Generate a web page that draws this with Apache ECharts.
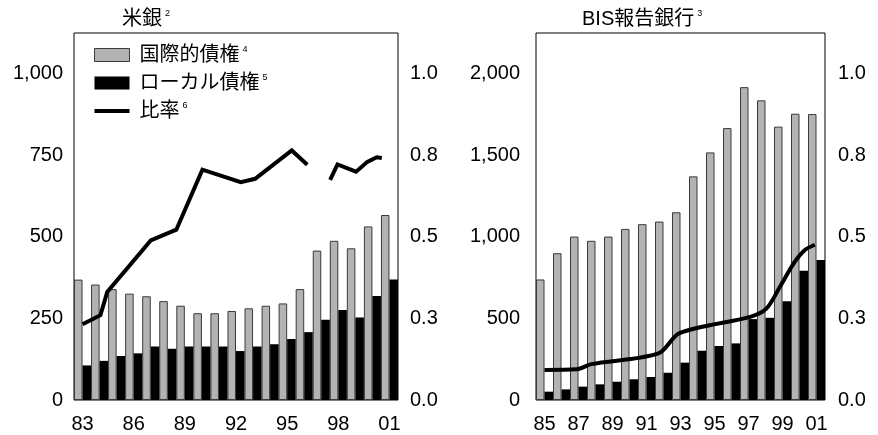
<!DOCTYPE html>
<html><head><meta charset="utf-8">
<script src="https://cdn.jsdelivr.net/npm/echarts@6/dist/echarts.min.js"></script>
<style>html,body{margin:0;padding:0;background:#fff}#c{width:878px;height:435px}</style>
</head><body><div id="c"></div>
<script>
const leftYears = ['83','84','85','86','87','88','89','90','91','92','93','94','95','96','97','98','99','00','01'];
const leftIntl = [369,354,340,326,318,303,289,266,266,273,281,289,296,340,458,488,465,532,567];
const leftLocal = [106,120,135,143,164,157,164,164,164,150,164,171,187,208,246,276,253,319,369];
const leftRatioX = [1983.0,1984.05,1984.45,1987.0,1988.5,1990.03,1992.28,1993.12,1995.27,1996.18,1996.8,1997.52,1997.95,1999.04,1999.7,2000.25,2000.55];
const leftRatioY = [0.232,0.26,0.331,0.489,0.522,0.706,0.668,0.678,0.765,0.721,null,0.675,0.722,0.70,0.73,0.744,0.742];

const rightYears = ['85','86','87','88','89','90','91','92','93','94','95','96','97','98','99','00','01'];
const rightIntl = [739,900,1002,976,1002,1049,1078,1094,1151,1371,1518,1667,1918,1837,1676,1755,1753];
const rightLocal = [51,65,82,96,112,127,141,167,229,302,331,347,496,504,606,792,859];
const rightRatioX = [1985.0,1986.9,1987.75,1991.7,1992.95,1997.1,1998.05,1998.85,1999.65,2000.3,2000.9];
const rightRatioY = [0.092,0.094,0.11,0.143,0.205,0.255,0.28,0.347,0.418,0.459,0.476];

const leftTicks = [0,250,500,750,1000];
const rightTicks = [0,500,1000,1500,2000];
const ratioTicks = [0,0.25,0.5,0.75,1.0];

const FONT = "'Liberation Sans', Arial, 'Noto Sans CJK JP', sans-serif";
const GRAY = '#b3b3b3';
const NAMES = ['国際的債権','ローカル債権','比率'];
const SUPS = {'国際的債権':'4','ローカル債権':'5','比率':'6'};

function comma(v){return String(v).replace(/\B(?=(\d{3})+(?!\d))/g, ',');}
const pair = (xs, ys) => xs.map((x,i)=>[x, ys[i]===null ? '-' : ys[i]]);

const chart = echarts.init(document.getElementById('c'), null, {renderer:'canvas'});
const axisLblBase = {color:'#000', fontSize:20, fontFamily:FONT};
const richT = {a:{fontSize:20,fontFamily:FONT,color:'#000',fontWeight:'normal'}, s:{fontSize:9,fontFamily:FONT,color:'#000',fontWeight:'normal',verticalAlign:'top',padding:[0,0,8,3]}};
function valAxis(grid, max, ticks, fmt, pos, margin){
  return {type:'value', gridIndex:grid, position:pos, min:0, max:max, interval:ticks[1]-ticks[0],
    axisLine:{show:false}, axisTick:{show:false}, splitLine:{show:false},
    axisLabel:Object.assign({margin:margin, showMaxLabel:false, formatter:fmt}, axisLblBase)};
}
const option = {
  animation:false,
  title:[
    {text:'{a|米銀}{s|2}', left:117, top:4, textStyle:{fontWeight:'normal', rich:richT}},
    {text:'{a|BIS報告銀行}{s|3}', left:577, top:4, textStyle:{fontWeight:'normal', rich:richT}}
  ],
  legend:{
    data:[
      {name:NAMES[0], icon:'rect', itemStyle:{color:GRAY, borderColor:'#3a3a3a', borderWidth:1}},
      {name:NAMES[1], icon:'rect', itemStyle:{color:'#000'}},
      {name:NAMES[2], icon:'path://M0,0H35V4H0Z', itemStyle:{color:'#000'}}
    ],
    orient:'vertical', left:89, top:40, itemWidth:35, itemHeight:13, itemGap:8,
    symbolKeepAspect:true,
    formatter:n=>'{a|'+n+'}{s|'+SUPS[n]+'}',
    textStyle:{padding:[0,0,0,5], rich:richT},
    selectedMode:false
  },
  grid:[
    {left:74, right:480, top:33, bottom:35, show:true, borderColor:'#000', borderWidth:1, containLabel:false},
    {left:536, right:53, top:33, bottom:35, show:true, borderColor:'#000', borderWidth:1, containLabel:false}
  ],
  xAxis:[
    {type:'category', gridIndex:0, data:leftYears, axisLine:{show:false}, axisTick:{show:false},
     axisLabel:Object.assign({interval:2, margin:14}, axisLblBase)},
    {type:'category', gridIndex:1, data:rightYears, axisLine:{show:false}, axisTick:{show:false},
     axisLabel:Object.assign({interval:1, margin:14}, axisLblBase)},
    {type:'value', gridIndex:0, min:1982.5, max:2001.5, show:false},
    {type:'value', gridIndex:1, min:1984.5, max:2001.5, show:false}
  ],
  yAxis:[
    valAxis(0, 1125, leftTicks, v=>comma(v), 'left', 11),
    valAxis(0, 1.125, ratioTicks, v=>v.toFixed(1), 'right', 12),
    valAxis(1, 2250, rightTicks, v=>comma(v), 'left', 16),
    valAxis(1, 1.125, ratioTicks, v=>v.toFixed(1), 'right', 13)
  ],
  series:[
    {name:NAMES[0], type:'bar', xAxisIndex:0, yAxisIndex:0, data:leftIntl, barGap:'0%', barCategoryGap:'0%',
     itemStyle:{color:GRAY, borderColor:'#3a3a3a', borderWidth:1}},
    {name:NAMES[1], type:'bar', xAxisIndex:0, yAxisIndex:0, data:leftLocal, barGap:'0%', barCategoryGap:'0%',
     itemStyle:{color:'#000'}},
    {name:NAMES[2], type:'line', xAxisIndex:2, yAxisIndex:1, data:pair(leftRatioX,leftRatioY), symbol:'none', connectNulls:false,
     lineStyle:{color:'#000', width:4, join:'miter'}, itemStyle:{color:'#000'}},
    {name:NAMES[0], type:'bar', xAxisIndex:1, yAxisIndex:2, data:rightIntl, barGap:'0%', barCategoryGap:'0%',
     itemStyle:{color:GRAY, borderColor:'#3a3a3a', borderWidth:1}},
    {name:NAMES[1], type:'bar', xAxisIndex:1, yAxisIndex:2, data:rightLocal, barGap:'0%', barCategoryGap:'0%',
     itemStyle:{color:'#000'}},
    {name:NAMES[2], type:'line', xAxisIndex:3, yAxisIndex:3, data:pair(rightRatioX,rightRatioY), symbol:'none', smooth:0.3,
     lineStyle:{color:'#000', width:4}, itemStyle:{color:'#000'}}
  ]
};
chart.setOption(option);
</script></body></html>
